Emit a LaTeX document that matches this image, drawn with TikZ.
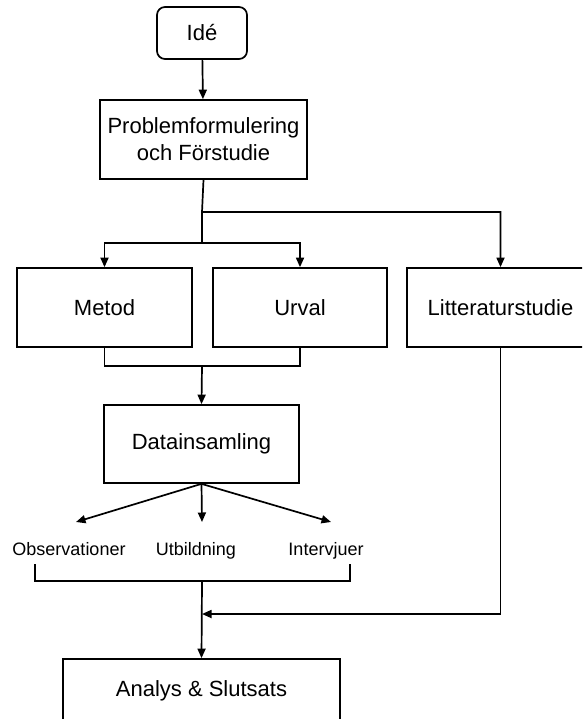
\documentclass[tikz,border=0pt]{standalone}
\usepackage{fontspec}
\setmainfont{Liberation Sans}
\usetikzlibrary{arrows.meta}
\tikzset{
  box/.style={draw, line width=1.7pt, align=center, font=\fontsize{22}{27}\selectfont},
  tag/.style={font=\fontsize{18}{21}\selectfont, inner sep=0pt, anchor=base},
  link/.style={line width=1.7pt},
  arrow/.style={link, -{Triangle[length=9.5pt,width=8pt]}}
}

\begin{document}
\begin{tikzpicture}[x=1pt, y=-1pt] % flow chart
\useasboundingbox (0,0) rectangle (582,719);
\clip (0,0) rectangle (582,719);

\node[box, rounded corners=8pt, minimum width=90pt, minimum height=52pt] (ide) at (202,33) {Idé};
\node[box, minimum width=207pt, minimum height=79pt] (prob) at (203.5,139.5) {Problemformulering\\och Förstudie};
\node[box, minimum width=175pt, minimum height=79pt] (metod) at (104.5,307.5) {Metod};
\node[box, minimum width=174pt, minimum height=79pt] (urval) at (300,307.5) {Urval};
\node[box, minimum width=187pt, minimum height=79pt] (litt) at (500.5,307.5) {Litteraturstudie};
\node[box, minimum width=195pt, minimum height=78pt] (data) at (201.5,444) {Datainsamling};
\node[box, minimum width=277pt, minimum height=64pt] (analys) at (201.5,691) {Analys \& Slutsats};

\node[tag] (obs) at (69,555.5) {Observationer};
\node[tag] (utb) at (196,555.5) {Utbildning};
\node[tag] (int) at (326,555.5) {Intervjuer};

\coordinate (s1) at (202,212);
\coordinate (s2) at (202,243);
\coordinate (j1) at (202,366);
\coordinate (obsin) at (76,522);
\coordinate (utbin) at (202,522);
\coordinate (intin) at (331,522);
\coordinate (bl) at (35,564);
\coordinate (br) at (350,564);
\coordinate (j2) at (202,581);
\coordinate (m) at (202,614);

\draw[arrow] (ide) -- (prob);
\draw[arrow] (prob.south) -- (s1) -| (litt.north);
\draw[link] (s1) -- (s2);
\draw[arrow] (s2) -| (metod.north);
\draw[arrow] (s2) -| (urval.north);
\draw[link] (metod.south) |- (j1) -| (urval.south);
\draw[arrow] (j1) -- (data.north);

\draw[arrow] (data.south) -- (obsin);
\draw[arrow] (data.south) -- (utbin);
\draw[arrow] (data.south) -- (intin);

\draw[link] (bl) |- (j2) -| (br);
\draw[arrow] (j2) -- (analys.north);
\draw[arrow] (litt.south) |- (m);
\end{tikzpicture}
\end{document}
